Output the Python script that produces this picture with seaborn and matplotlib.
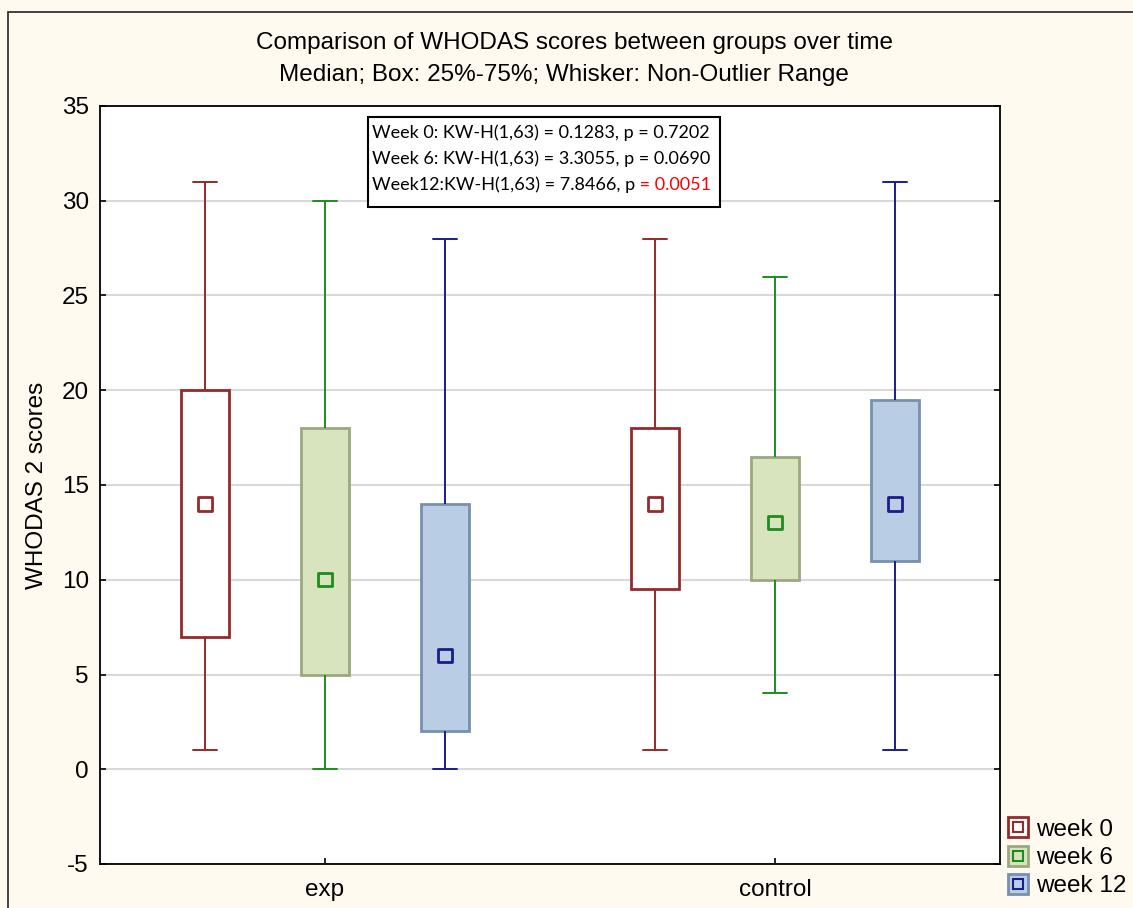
import numpy as np
import pandas as pd
import matplotlib
matplotlib.use("Agg")
import matplotlib.pyplot as plt
from matplotlib.patches import Rectangle
from matplotlib.lines import Line2D
import seaborn as sns

# Summary statistics per group and week: min, Q1, median, Q3, max
groups = ["exp", "control"]
weeks = ["week 0", "week 6", "week 12"]

exp_min = [1, 0, 0]
exp_q1 = [7, 5, 2]
exp_median = [14, 10, 6]
exp_q3 = [20, 18, 14]
exp_max = [31, 30, 28]

control_min = [1, 4, 1]
control_q1 = [9.5, 10, 11]
control_median = [14, 13, 14]
control_q3 = [18, 16.5, 19.5]
control_max = [28, 26, 31]

y_ticks = [-5, 0, 5, 10, 15, 20, 25, 30, 35]

stats_lines = [
    "Week 0: KW-H(1,63) = 0.1283, p = 0.7202",
    "Week 6: KW-H(1,63) = 3.3055, p = 0.0690",
]
stats_last_black = "Week12:KW-H(1,63) = 7.8466, p"
stats_last_red = " = 0.0051"

line_colors = {"week 0": "#952A2A", "week 6": "#1E8C1E", "week 12": "#1C1C8C"}
face_colors = {"week 0": "#FFFFFF", "week 6": "#D7E4BD", "week 12": "#B9CDE5"}
edge_colors = {"week 0": "#952A2A", "week 6": "#9BA880", "week 12": "#7890AC"}

# Five values per box reproduce the quartiles exactly with linear interpolation
rows = []
summary = {
    "exp": (exp_min, exp_q1, exp_median, exp_q3, exp_max),
    "control": (control_min, control_q1, control_median, control_q3, control_max),
}
for g in groups:
    mins, q1s, meds, q3s, maxs = summary[g]
    for i, w in enumerate(weeks):
        for v in (mins[i], q1s[i], meds[i], q3s[i], maxs[i]):
            rows.append({"group": g, "week": w, "score": v})
df = pd.DataFrame(rows)
med_df = df.groupby(["group", "week"], sort=False)["score"].median().reset_index()

sns.set_style("white")
plt.rcParams["font.family"] = ["Liberation Sans", "DejaVu Sans"]
plt.rcParams["text.color"] = "black"

FS = 17.5

fig = plt.figure(figsize=(11.33, 9.08), dpi=100, facecolor="#FFFAF0")
ax = fig.add_axes([100 / 1133, 44 / 908, 900 / 1133, 758 / 908])
ax.set_facecolor("white")

sns.boxplot(
    data=df, x="group", y="score", hue="week", order=groups, hue_order=weeks,
    palette=face_colors, saturation=1, whis=(0, 100), width=0.8, gap=0.6,
    dodge=True, linewidth=1.5, fliersize=0, legend=False, ax=ax, zorder=3,
)

n = len(weeks)
step = 0.8 / n


def hue_of(x):
    off = x - np.round(x)
    return weeks[int(np.round(off / step)) + 1]


for p in ax.patches:
    verts = p.get_path().vertices
    xc = (verts[:, 0].min() + verts[:, 0].max()) / 2
    w = hue_of(xc)
    p.set_facecolor(face_colors[w])
    p.set_edgecolor(edge_colors[w])
    p.set_linewidth(2.0)

for ln in list(ax.lines):
    xd = np.asarray(ln.get_xdata(), dtype=float)
    yd = np.asarray(ln.get_ydata(), dtype=float)
    if len(xd) == 0:
        continue
    w = hue_of(xd.mean())
    ln.set_color(line_colors[w])
    ln.set_linewidth(1.4)
    # median segments span the whole box width; the square marker replaces them
    if len(xd) == 2 and np.isclose(yd[0], yd[1]) and abs(xd[1] - xd[0]) > step * 0.3:
        ln.set_visible(False)

# Median markers
n_before = len(ax.collections)
sns.stripplot(
    data=med_df, x="group", y="score", hue="week", order=groups, hue_order=weeks,
    palette=line_colors, dodge=True, jitter=False, marker="s", size=9.5,
    linewidth=2.0, legend=False, ax=ax, zorder=5,
)
for coll in ax.collections[n_before:]:
    fc = coll.get_facecolors()
    coll.set_edgecolors(fc)
    coll.set_facecolors("none")

ax.set_xlim(-0.5, 1.5)
ax.set_ylim(-5, 35)
ax.set_yticks(y_ticks)
ax.set_yticklabels([str(t) for t in y_ticks])
ax.yaxis.grid(True, color="#D9D9D9", linewidth=1.5, zorder=0)
ax.set_axisbelow(True)
ax.tick_params(axis="both", direction="in", length=4, width=1.2, labelsize=FS,
               colors="black", labelcolor="black")
ax.tick_params(axis="y", right=True, left=True, pad=8)
ax.tick_params(axis="x", bottom=True, pad=11)
for s in ax.spines.values():
    s.set_visible(True)
    s.set_color("black")
    s.set_linewidth(1.3)

ax.set_xlabel("")
ax.set_ylabel("WHODAS 2 scores", fontsize=FS, color="black")
ax.yaxis.set_label_coords(-52 / 900, 0.5)

# Titles
fig.text(575 / 1133, 1 - 43 / 908, "Comparison of WHODAS scores between groups over time",
         ha="center", va="center", fontsize=FS, color="black")
fig.text(564 / 1133, 1 - 75 / 908, "Median; Box: 25%-75%; Whisker: Non-Outlier Range",
         ha="center", va="center", fontsize=FS, color="black")

# Test results box
box = Rectangle((268 / 900, (864 - 207) / 758), 352 / 900, 90 / 758,
                transform=ax.transAxes, facecolor="white", edgecolor="black",
                linewidth=1.5, zorder=6)
ax.add_patch(box)
tx = 272 / 900
ys = [(864 - 133) / 758, (864 - 159) / 758, (864 - 185) / 758]
sfont = ["Lato", "DejaVu Sans"]
SFS = 13
for line, yy in zip(stats_lines, ys[:2]):
    ax.text(tx, yy, line, transform=ax.transAxes, ha="left", va="center",
            fontsize=SFS, family=sfont, color="black", zorder=7)
t3 = ax.text(tx, ys[2], stats_last_black, transform=ax.transAxes, ha="left",
             va="center", fontsize=SFS, family=sfont, color="black", zorder=7)
ax.annotate(stats_last_red, xy=(1, 0), xycoords=t3, ha="left", va="bottom",
            fontsize=SFS, family=sfont, color="#FF0000", zorder=7)

# Legend
handles = []
for w in weeks:
    outer = Line2D([], [], linestyle="none", marker="s", markersize=14,
                   markerfacecolor=face_colors[w], markeredgecolor=edge_colors[w],
                   markeredgewidth=2.0)
    inner = Line2D([], [], linestyle="none", marker="s", markersize=7.5,
                   markerfacecolor="none", markeredgecolor=line_colors[w],
                   markeredgewidth=1.5)
    handles.append((outer, inner))
fig.legend(handles, weeks, loc="upper left", bbox_to_anchor=(997 / 1133, 1 - 809 / 908),
           frameon=False, fontsize=FS, handlelength=0.9, handletextpad=0.3,
           labelspacing=0.26, borderpad=0.2, borderaxespad=0.2)

# Figure frame
fig.patches.append(Rectangle((8 / 1133, -0.1), 1.2, (908 - 12) / 908 + 0.1,
                             transform=fig.transFigure, fill=False,
                             edgecolor="#333333", linewidth=1.3))

fig.savefig("out.png", dpi=100, facecolor=fig.get_facecolor())
